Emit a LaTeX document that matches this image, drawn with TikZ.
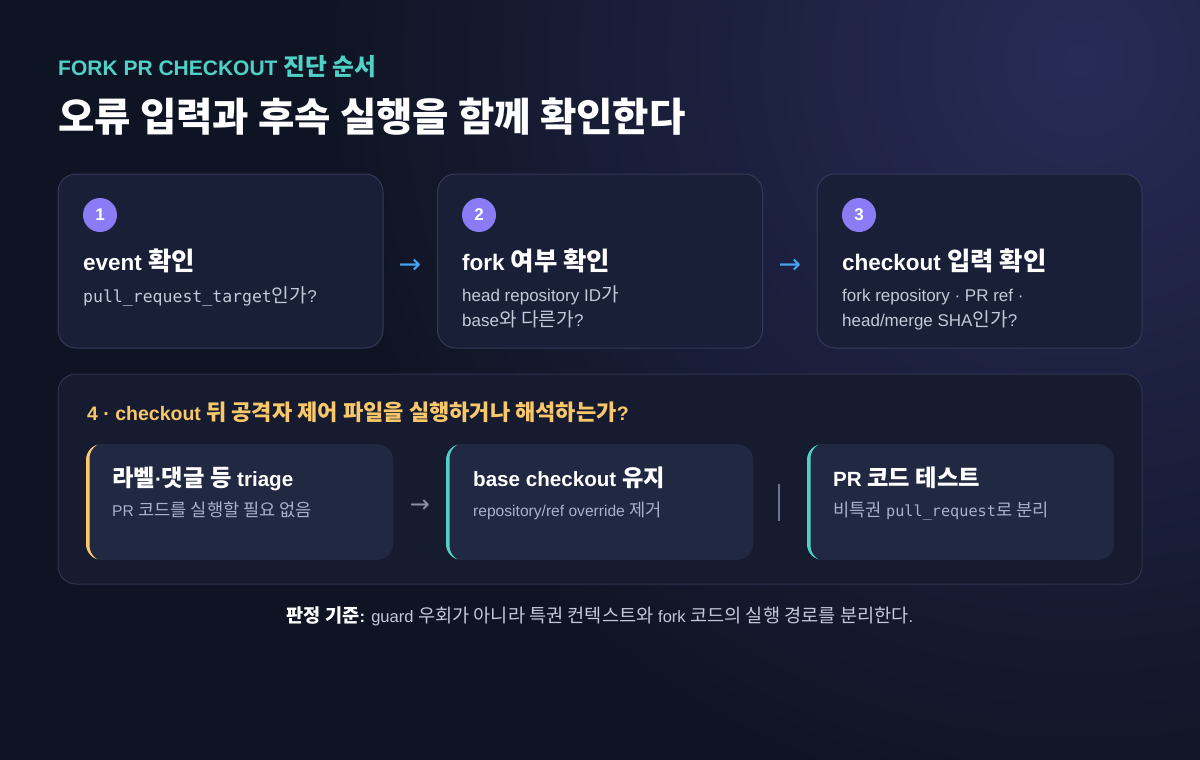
\documentclass[tikz,border=0pt]{standalone}
\usepackage{fontspec}
\setmainfont{Liberation Sans}
\setmonofont{DejaVu Sans Mono}
\newfontfamily\ko[Scale=1.13]{Noto Sans CJK KR}
\newfontfamily\symf{DejaVu Sans}
\newcommand\K[1]{{\ko #1}}
\newcommand\fs[1]{\fontsize{#1}{#1}\selectfont}
\definecolor{bgbase}{HTML}{0F1424}
\definecolor{bgglow}{HTML}{282B56}
\definecolor{cardfill}{HTML}{1A1F38}
\definecolor{cardline}{HTML}{333A57}
\definecolor{boxfill}{HTML}{161B30}
\definecolor{boxline}{HTML}{2E3550}
\definecolor{innerfill}{HTML}{202842}
\definecolor{violet}{HTML}{8B7CF6}
\definecolor{teal}{HTML}{4FD1C5}
\definecolor{gold}{HTML}{F9C86A}
\definecolor{arrowblue}{HTML}{4AA3F0}
\definecolor{subgray}{HTML}{C3C9D9}
\definecolor{innergray}{HTML}{A8B2C8}
\definecolor{sepgray}{HTML}{6B7694}
\definecolor{arrowgray}{HTML}{8B93AA}
\begin{document}
\begin{tikzpicture}[x=1pt,y=-1pt,
  card/.style={draw=cardline, line width=1pt, fill=cardfill, rounded corners=18pt,
    minimum width=325pt, minimum height=174pt, inner sep=0pt},
  bigbox/.style={draw=boxline, line width=1pt, fill=boxfill, rounded corners=18pt,
    minimum width=1084pt, minimum height=210pt, inner sep=0pt},
  ibox/.style={fill=innerfill, rounded corners=16pt, minimum width=307pt, minimum height=116pt, inner sep=0pt,
    path picture={\fill[#1, even odd rule]
      ([xshift=-2pt,yshift=-2pt]path picture bounding box.south west) rectangle ([xshift=2pt,yshift=2pt]path picture bounding box.north east)
      [rounded corners=16pt] ([xshift=3.5pt,yshift=-1.5pt]path picture bounding box.south west) rectangle ([xshift=30pt,yshift=1.5pt]path picture bounding box.north east);}},
  numc/.style={circle, fill=violet, minimum size=34pt, inner sep=0pt, text=white, font=\bfseries\fs{17}},
  txt/.style={anchor=base west, inner sep=0pt},
  ctitle/.style={txt, text=white, font=\bfseries\fs{22.5}},
  csub/.style={txt, text=subgray, font=\fs{17}},
  ititle/.style={txt, text=white, font=\bfseries\fs{20.6}},
  isub/.style={txt, text=innergray, font=\fs{15.6}},
  arr/.style={inner sep=0pt, text=arrowblue, font=\symf\fs{27}},
]
\useasboundingbox (0,0) rectangle (1200,760);
\begin{scope}
  \clip (0,0) rectangle (1200,760);
  \fill[bgbase] (0,0) rectangle (1200,760);
  \shade[inner color=bgglow, outer color=bgbase] (1080,60) circle (760);
\end{scope}

% header
\node[txt, text=teal, font=\bfseries\fs{21}] (kicker) at (58,75) {FORK PR CHECKOUT \K{진단 순서}};
\node[txt, text=white, font=\bfseries\fs{35}] (title) at (58,131) {\K{오류 입력과 후속 실행을 함께 확인한다}};

% top cards
\node[card] (c1) at (220.5,261) {};
\node[card] (c2) at (600,261) {};
\node[card] (c3) at (979.5,261) {};

\node[numc] (n1) at (100,215) {1};
\node[numc] (n2) at (479,215) {2};
\node[numc] (n3) at (859,215) {3};

\node[ctitle] (t1) at (83,270) {event \K{확인}};
\node[csub] (s1) at (83,302) {{\fs{16.5}\ttfamily pull\_request\_target}\K{인가}?};

\node[ctitle] (t2) at (462,270) {fork \K{여부 확인}};
\node[csub] (s2a) at (462,301) {head repository ID\K{가}};
\node[csub] (s2b) at (462,326) {base\K{와 다른가}?};

\node[ctitle] (t3) at (842,270) {checkout \K{입력 확인}};
\node[csub] (s3a) at (842,301) {fork repository · PR ref ·};
\node[csub] (s3b) at (842,326) {head/merge SHA\K{인가}?};

\node[arr] (a12) at (410,266) {→};
\node[arr] (a23) at (790,266) {→};

% bottom container
\node[bigbox] (big) at (600,479) {};
\node[txt, text=gold, font=\bfseries\fs{19.5}] (q4) at (87,420) {4 · checkout \K{뒤 공격자 제어 파일을 실행하거나 해석하는가}?};

\node[ibox=gold] (b1) at (239.5,502) {};
\node[ibox=teal] (b2) at (599.5,502) {};
\node[ibox=teal] (b3) at (960.5,502) {};

\node[ititle] (bt1) at (112,486) {\K{라벨}·\K{댓글 등} triage};
\node[isub] (bs1) at (112,516) {PR \K{코드를 실행할 필요 없음}};

\node[ititle] (bt2) at (473,486) {base checkout \K{유지}};
\node[isub] (bs2) at (473,516) {repository/ref override \K{제거}};

\node[ititle] (bt3) at (833,486) {PR \K{코드 테스트}};
\node[isub] (bs3) at (833,516) {\K{비특권} {\fs{15.2}\ttfamily pull\_request}\K{로 분리}};

\node[inner sep=0pt, text=arrowgray, font=\symf\fs{24}] (a45) at (420,506) {→};
\coordinate (sepT) at (779,484);
\coordinate (sepB) at (779,521);
\draw[sepgray, line width=2pt] (sepT) -- (sepB);

% footer
\node[anchor=base, inner sep=0pt, text=subgray, font=\fs{16.5}] (foot) at (600,622)
  {{\bfseries\color{white}\K{판정 기준}:} guard \K{우회가 아니라 특권 컨텍스트와} fork \K{코드의 실행 경로를 분리한다}.};
\end{tikzpicture}
\end{document}
